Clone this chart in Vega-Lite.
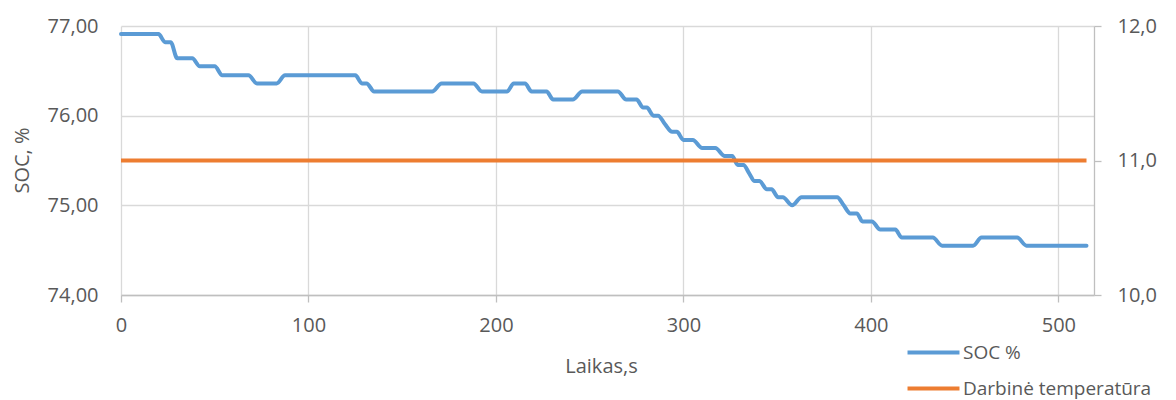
{
  "$schema": "https://vega.github.io/schema/vega-lite/v6.json",
  "width": 973,
  "height": 269,
  "autosize": {"type": "none"},
  "padding": {"left": 121, "top": 26, "right": 82, "bottom": 105},
  "background": "white",
  "config": {
    "view": {"stroke": null},
    "font": "Open Sans",
    "axis": {
      "labelFont": "Open Sans",
      "labelFontSize": 20,
      "labelColor": "#595959",
      "titleFont": "Open Sans",
      "titleFontSize": 20,
      "titleColor": "#595959",
      "titleFontWeight": "normal",
      "gridColor": "#D9D9D9",
      "gridWidth": 1.3,
      "domainColor": "#BFBFBF",
      "domainWidth": 1.3,
      "tickColor": "#BFBFBF",
      "tickWidth": 1.3
    },
    "legend": {
      "labelFont": "Open Sans",
      "labelFontSize": 19,
      "labelColor": "#595959",
      "labelLimit": 0
    }
  },
  "datasets": {
    "soc": [
      {"t": 0, "v": 76.91, "series": "SOC %"},
      {"t": 20, "v": 76.91, "series": "SOC %"},
      {"t": 23.5, "v": 76.82, "series": "SOC %"},
      {"t": 26.5, "v": 76.82, "series": "SOC %"},
      {"t": 30, "v": 76.64, "series": "SOC %"},
      {"t": 38, "v": 76.64, "series": "SOC %"},
      {"t": 42, "v": 76.55, "series": "SOC %"},
      {"t": 50, "v": 76.55, "series": "SOC %"},
      {"t": 54, "v": 76.45, "series": "SOC %"},
      {"t": 68, "v": 76.45, "series": "SOC %"},
      {"t": 72.5, "v": 76.36, "series": "SOC %"},
      {"t": 83, "v": 76.36, "series": "SOC %"},
      {"t": 87.5, "v": 76.45, "series": "SOC %"},
      {"t": 125, "v": 76.45, "series": "SOC %"},
      {"t": 128.5, "v": 76.36, "series": "SOC %"},
      {"t": 131, "v": 76.36, "series": "SOC %"},
      {"t": 135, "v": 76.27, "series": "SOC %"},
      {"t": 166, "v": 76.27, "series": "SOC %"},
      {"t": 171, "v": 76.36, "series": "SOC %"},
      {"t": 188, "v": 76.36, "series": "SOC %"},
      {"t": 192.5, "v": 76.27, "series": "SOC %"},
      {"t": 206, "v": 76.27, "series": "SOC %"},
      {"t": 209.5, "v": 76.36, "series": "SOC %"},
      {"t": 215.5, "v": 76.36, "series": "SOC %"},
      {"t": 219, "v": 76.27, "series": "SOC %"},
      {"t": 227, "v": 76.27, "series": "SOC %"},
      {"t": 230.5, "v": 76.18, "series": "SOC %"},
      {"t": 241, "v": 76.18, "series": "SOC %"},
      {"t": 246, "v": 76.27, "series": "SOC %"},
      {"t": 265, "v": 76.27, "series": "SOC %"},
      {"t": 269.5, "v": 76.18, "series": "SOC %"},
      {"t": 275, "v": 76.18, "series": "SOC %"},
      {"t": 278.5, "v": 76.09, "series": "SOC %"},
      {"t": 280.5, "v": 76.09, "series": "SOC %"},
      {"t": 284, "v": 76.0, "series": "SOC %"},
      {"t": 286.5, "v": 76.0, "series": "SOC %"},
      {"t": 290, "v": 75.91, "series": "SOC %"},
      {"t": 294, "v": 75.82, "series": "SOC %"},
      {"t": 296.5, "v": 75.82, "series": "SOC %"},
      {"t": 300, "v": 75.73, "series": "SOC %"},
      {"t": 305, "v": 75.73, "series": "SOC %"},
      {"t": 310, "v": 75.64, "series": "SOC %"},
      {"t": 317, "v": 75.64, "series": "SOC %"},
      {"t": 322, "v": 75.55, "series": "SOC %"},
      {"t": 326, "v": 75.55, "series": "SOC %"},
      {"t": 329, "v": 75.45, "series": "SOC %"},
      {"t": 332, "v": 75.45, "series": "SOC %"},
      {"t": 335, "v": 75.36, "series": "SOC %"},
      {"t": 338, "v": 75.27, "series": "SOC %"},
      {"t": 340.5, "v": 75.27, "series": "SOC %"},
      {"t": 344.5, "v": 75.18, "series": "SOC %"},
      {"t": 347, "v": 75.18, "series": "SOC %"},
      {"t": 350.5, "v": 75.09, "series": "SOC %"},
      {"t": 353, "v": 75.09, "series": "SOC %"},
      {"t": 358, "v": 75.0, "series": "SOC %"},
      {"t": 363, "v": 75.09, "series": "SOC %"},
      {"t": 382, "v": 75.09, "series": "SOC %"},
      {"t": 385.5, "v": 75.0, "series": "SOC %"},
      {"t": 389, "v": 74.91, "series": "SOC %"},
      {"t": 392.5, "v": 74.91, "series": "SOC %"},
      {"t": 395.5, "v": 74.82, "series": "SOC %"},
      {"t": 400.5, "v": 74.82, "series": "SOC %"},
      {"t": 405, "v": 74.73, "series": "SOC %"},
      {"t": 413, "v": 74.73, "series": "SOC %"},
      {"t": 416.5, "v": 74.64, "series": "SOC %"},
      {"t": 433, "v": 74.64, "series": "SOC %"},
      {"t": 438, "v": 74.55, "series": "SOC %"},
      {"t": 454.5, "v": 74.55, "series": "SOC %"},
      {"t": 459, "v": 74.64, "series": "SOC %"},
      {"t": 478, "v": 74.64, "series": "SOC %"},
      {"t": 483, "v": 74.55, "series": "SOC %"},
      {"t": 515, "v": 74.55, "series": "SOC %"}
    ],
    "temp": [
      {"t": 0, "v": 11.0, "series": "Darbinė temperatūra"},
      {"t": 515, "v": 11.0, "series": "Darbinė temperatūra"}
    ]
  },
  "encoding": {
    "x": {
      "field": "t",
      "type": "quantitative",
      "scale": {"domain": [0, 519], "nice": false, "zero": false},
      "axis": {
        "title": "Laikas,s",
        "values": [0, 100, 200, 300, 400, 500],
        "grid": true,
        "tickSize": 7,
        "labelPadding": 13,
        "labelFlush": false,
        "titleY": 71,
        "titleX": 480,
        "titleBaseline": "middle"
      }
    }
  },
  "layer": [
    {
      "data": {"name": "soc"},
      "mark": {"type": "line", "interpolate": "monotone", "strokeWidth": 4, "strokeCap": "round", "strokeJoin": "round"},
      "encoding": {
        "y": {
          "field": "v",
          "type": "quantitative",
          "scale": {"domain": [74, 77], "nice": false, "zero": false},
          "axis": {
            "title": "SOC, %",
            "values": [74, 75, 76, 77],
            "grid": true,
            "domain": false,
            "ticks": false,
            "tickSize": 0,
            "labelPadding": 23,
            "labelExpr": "replace(format(datum.value, '.2f'), '.', ',')",
            "titleX": -99,
            "titleY": 134,
            "titleAngle": -90,
            "titleAlign": "center",
            "titleBaseline": "middle"
          }
        },
        "color": {
          "field": "series",
          "type": "nominal",
          "scale": {"domain": ["SOC %", "Darbinė temperatūra"], "range": ["#5B9BD5", "#ED7D31"]},
          "legend": {
            "title": null,
            "orient": "none",
            "direction": "vertical",
            "legendX": 803,
            "legendY": 317,
            "padding": 0,
            "symbolType": "M-5,0H5",
            "symbolSize": 108,
            "symbolStrokeWidth": 4,
            "labelOffset": 20,
            "labelLimit": 0,
            "rowPadding": 16
          }
        }
      }
    },
    {
      "data": {"name": "temp"},
      "mark": {"type": "line", "strokeWidth": 4},
      "encoding": {
        "y": {
          "field": "v",
          "type": "quantitative",
          "scale": {"domain": [10, 12], "nice": false, "zero": false},
          "axis": {
            "title": null,
            "orient": "right",
            "values": [10, 11, 12],
            "grid": false,
            "tickSize": 7,
            "labelPadding": 16,
            "labelExpr": "replace(format(datum.value, '.1f'), '.', ',')"
          }
        },
        "color": {
          "field": "series",
          "type": "nominal",
          "scale": {"domain": ["SOC %", "Darbinė temperatūra"], "range": ["#5B9BD5", "#ED7D31"]},
          "legend": {
            "title": null,
            "orient": "none",
            "direction": "vertical",
            "legendX": 803,
            "legendY": 317,
            "padding": 0,
            "symbolType": "M-5,0H5",
            "symbolSize": 108,
            "symbolStrokeWidth": 4,
            "labelOffset": 20,
            "labelLimit": 0,
            "rowPadding": 16
          }
        }
      }
    }
  ],
  "resolve": {"scale": {"y": "independent"}}
}
